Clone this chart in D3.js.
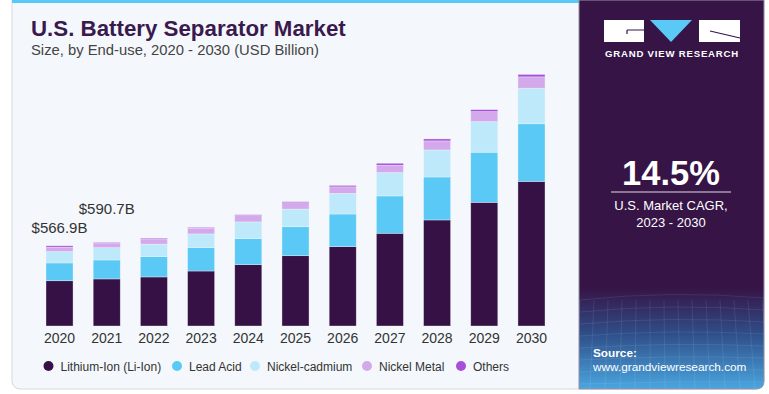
<!DOCTYPE html>
<html>
<head>
<meta charset="utf-8">
<script src="https://cdn.jsdelivr.net/npm/d3@7"></script>
<style>
  body { margin: 0; background: #fff; }
  svg { display: block; font-family: "Liberation Sans", Arial, sans-serif; }
</style>
</head>
<body>
<div class="container"></div>
<script>
// data (USD billion)
const years = ["2020","2021","2022","2023","2024","2025","2026","2027","2028","2029","2030"];
const series = ["Lithium-Ion (Li-Ion)", "Lead Acid", "Nickel-cadmium", "Nickel Metal", "Others"];
const liIon      = [320, 333, 347, 389, 434, 497, 561, 656, 750, 875, 1023];
const leadAcid   = [126, 134, 144, 165, 184, 205, 231, 264, 304, 354, 407];
const nickelCad  = [80, 87, 88, 97, 118, 125, 146, 165, 191, 216, 252];
const nickelMet  = [31, 30, 37, 40, 45, 45, 46, 52, 64, 71, 80];
const others     = [9.9, 6.7, 6, 6, 6, 7, 10, 14, 14, 14, 17];
const colors = ["#361146", "#5bc9f5", "#bde9fa", "#d4a9ec", "#a84fd8"];
const labels = [{year: "2020", text: "$566.9B"}, {year: "2021", text: "$590.7B"}];

const w = 769, h = 394;
const svg = d3.select(".container").append("svg").attr("width", w).attr("height", h);

// card
const defs = svg.append("defs");
const grad = defs.append("linearGradient").attr("id", "side").attr("x1", 0).attr("y1", 0).attr("x2", 0).attr("y2", 1);
grad.append("stop").attr("offset", "0%").attr("stop-color", "#361446");
grad.append("stop").attr("offset", "74%").attr("stop-color", "#361446");
grad.append("stop").attr("offset", "86%").attr("stop-color", "#2f4f8a");
grad.append("stop").attr("offset", "100%").attr("stop-color", "#4aa6e0");

svg.append("rect").attr("x", 12).attr("y", -8).attr("width", 752).attr("height", 397)
  .attr("rx", 8).attr("fill", "#f4f8fc").attr("stroke", "#d6d9de");
svg.append("rect").attr("x", 12).attr("y", 0).attr("width", 568).attr("height", 3).attr("fill", "#5bc9f5");
svg.append("path")
  .attr("d", "M579,0 H764 V381 Q764,389 756,389 H579 Z")
  .attr("fill", "url(#side)").attr("stroke", "#9a90a6").attr("stroke-width", 1);

// faint grid on the lower part of the side panel
const gl = svg.append("g").attr("stroke", "#ffffff").attr("stroke-opacity", 0.12).attr("stroke-width", 0.7);
d3.range(0, 8).forEach(i => {
  gl.append("path").attr("d", `M580,${300 + i * 12} Q672,${290 + i * 13} 764,${298 + i * 12}`).attr("fill", "none");
});
d3.range(0, 14).forEach(i => {
  gl.append("line").attr("x1", 580 + i * 14).attr("y1", 300).attr("x2", 575 + i * 15).attr("y2", 389);
});

// title
svg.append("text").attr("x", 31).attr("y", 36).attr("font-size", 22.3).attr("font-weight", "bold")
  .attr("fill", "#3a1a4e").text("U.S. Battery Separator Market");
svg.append("text").attr("x", 31).attr("y", 55).attr("font-size", 14.8).attr("fill", "#444")
  .text("Size, by End-use, 2020 - 2030 (USD Billion)");

// scales
const xScale = d3.scaleBand().domain(years).range([46, 545]).paddingInner(0.427).paddingOuter(0);
const yScale = d3.scaleLinear().domain([0, 1800]).range([326, 326 - 1800 * 0.1414]);

const table = years.map((y, i) => ({
  year: y,
  [series[0]]: liIon[i], [series[1]]: leadAcid[i], [series[2]]: nickelCad[i],
  [series[3]]: nickelMet[i], [series[4]]: others[i]
}));
const stacked = d3.stack().keys(series)(table);

const g = svg.append("g");
g.selectAll("g.layer")
  .data(stacked)
  .enter()
  .append("g")
  .attr("class", "layer")
  .attr("fill", (d, i) => colors[i])
  .selectAll("rect")
  .data(d => d)
  .enter()
  .append("rect")
  .attr("x", d => xScale(d.data.year))
  .attr("y", d => yScale(d[1]))
  .attr("width", xScale.bandwidth())
  .attr("height", d => yScale(d[0]) - yScale(d[1]))
  .attr("stroke", "#f4f8fc")
  .attr("stroke-opacity", 0.6)
  .attr("stroke-width", 0.6);

// x axis labels
const xAxis = d3.axisBottom(xScale).tickSize(0).tickPadding(7);
const ax = svg.append("g").attr("transform", "translate(0,326)").call(xAxis);
ax.select(".domain").remove();
ax.selectAll("text").attr("font-size", 14).attr("fill", "#333").attr("font-family", "Liberation Sans, Arial, sans-serif");

// value labels
const totals = years.map((y, i) => liIon[i] + leadAcid[i] + nickelCad[i] + nickelMet[i] + others[i]);
svg.selectAll("text.val")
  .data(labels)
  .enter()
  .append("text")
  .attr("class", "val")
  .attr("x", d => xScale(d.year) + xScale.bandwidth() / 2)
  .attr("y", d => yScale(totals[years.indexOf(d.year)]) - 13 - (d.year === "2021" ? 15 : 0))
  .attr("text-anchor", "middle")
  .attr("font-size", 15)
  .attr("fill", "#333")
  .text(d => d.text);

// legend
const legendX = [48.5, 177, 255, 367, 461];
const lg = svg.append("g").attr("transform", "translate(0,366)");
series.forEach((s, i) => {
  lg.append("circle").attr("cx", legendX[i]).attr("cy", 0).attr("r", 5).attr("fill", colors[i]);
  lg.append("text").attr("x", legendX[i] + 12).attr("y", 4.5).attr("font-size", 12).attr("fill", "#333").text(s);
});

// side panel: logo
const logo = svg.append("g");
logo.append("rect").attr("x", 604).attr("y", 20).attr("width", 40).attr("height", 22).attr("fill", "#fff");
logo.append("path").attr("d", "M627,30 H644 M627,30 V34").attr("stroke", "#361446").attr("stroke-width", 1.2).attr("fill", "none");
logo.append("path").attr("d", "M650,20 H692 L671,42 Z").attr("fill", "#5bc9f5");
logo.append("rect").attr("x", 699).attr("y", 20).attr("width", 41).attr("height", 22).attr("fill", "#fff");
logo.append("path").attr("d", "M710,31 L740,38").attr("stroke", "#361446").attr("stroke-width", 1.2);
svg.append("text").attr("x", 672).attr("y", 57).attr("text-anchor", "middle").attr("font-size", 9.6)
  .attr("font-weight", "bold").attr("fill", "#fff").attr("letter-spacing", 0.8).text("GRAND VIEW RESEARCH");

// CAGR
svg.append("text").attr("x", 671).attr("y", 185).attr("text-anchor", "middle").attr("font-size", 34.5)
  .attr("font-weight", "bold").attr("fill", "#fff").text("14.5%");
svg.append("line").attr("x1", 611).attr("x2", 731).attr("y1", 192).attr("y2", 192).attr("stroke", "#ddd").attr("stroke-width", 1.2);
svg.append("text").attr("x", 671).attr("y", 210).attr("text-anchor", "middle").attr("font-size", 13)
  .attr("fill", "#fff").text("U.S. Market CAGR,");
svg.append("text").attr("x", 671).attr("y", 227).attr("text-anchor", "middle").attr("font-size", 13)
  .attr("fill", "#fff").text("2023 - 2030");

// source
svg.append("text").attr("x", 593).attr("y", 357).attr("font-size", 11.8).attr("font-weight", "bold")
  .attr("fill", "#fff").text("Source:");
svg.append("text").attr("x", 593).attr("y", 371).attr("font-size", 11.8)
  .attr("fill", "#fff").text("www.grandviewresearch.com");
</script>
</body>
</html>
